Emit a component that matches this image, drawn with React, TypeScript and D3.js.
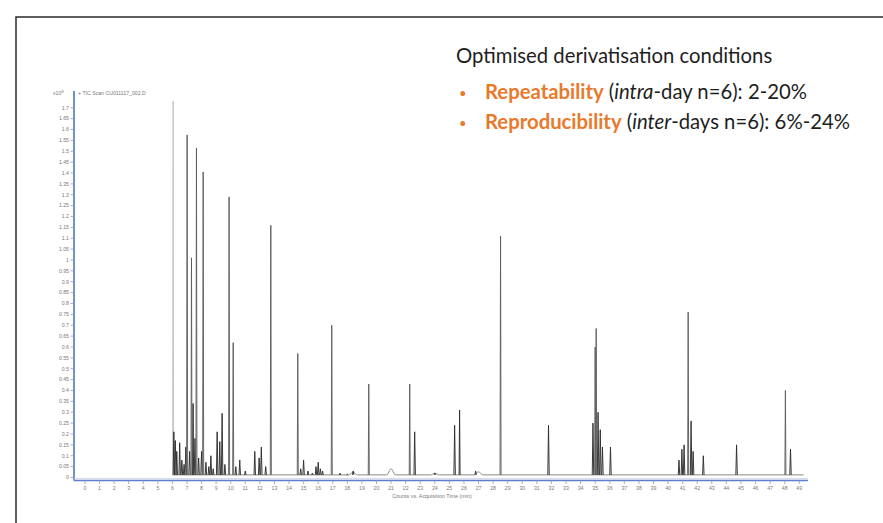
import React, { useEffect, useRef } from 'react'
import * as d3 from 'd3'

// retention time (min) and response (x10^8) of each peak
const peakTimes = [
  6.05, 6.1, 6.2, 6.3, 6.5, 6.65, 6.8, 6.92, 7.01, 7.18, 7.31, 7.42, 7.55, 7.65, 7.8, 8.0, 8.11, 8.3, 8.5,
  8.64, 8.8, 9.07, 9.25, 9.41, 9.6, 9.89, 10.17, 10.35, 10.62, 11.0, 11.65, 11.95, 12.1, 12.4, 12.75,
  14.6, 14.8, 15.0, 15.3, 15.6, 15.85, 16.0, 16.15, 16.3, 16.93, 17.5, 18.0, 18.4, 19.47, 22.28, 22.62,
  24.0, 25.36, 25.7, 26.8, 28.51, 31.8, 34.85, 35.0, 35.07, 35.2, 35.35, 35.5, 36.05, 40.75, 40.95,
  41.1, 41.38, 41.58, 41.72, 42.42, 44.7, 48.05, 48.4
]
const peakHeights = [
  1.73, 0.21, 0.17, 0.12, 0.16, 0.08, 0.06, 0.14, 1.575, 0.12, 1.01, 0.34, 0.18, 1.515, 0.09, 0.12, 1.405, 0.07, 0.05,
  0.1, 0.04, 0.21, 0.165, 0.295, 0.06, 1.29, 0.62, 0.05, 0.08, 0.03, 0.12, 0.09, 0.14, 0.05, 1.16,
  0.57, 0.04, 0.08, 0.03, 0.02, 0.05, 0.07, 0.04, 0.03, 0.7, 0.02, 0.015, 0.03, 0.43, 0.43, 0.21,
  0.02, 0.24, 0.31, 0.03, 1.11, 0.24, 0.25, 0.6, 0.685, 0.3, 0.22, 0.14, 0.14, 0.08, 0.13,
  0.15, 0.76, 0.26, 0.12, 0.1, 0.15, 0.4, 0.13
]
// broad low humps on the baseline
const humpTimes = [18.4, 21.0, 24.0, 27.0]
const humpHeights = [0.012, 0.028, 0.008, 0.014]

const xTicks = d3.range(0, 50)
const yTicks = d3.range(0, 1.7001, 0.05)

const W = 883
const H = 523

const Chromatogram = () => {
  const ref = useRef<SVGSVGElement>(null)

  useEffect(() => {
    const svg = d3.select(ref.current)
    svg.selectAll('*').remove()

    const x = d3.scaleLinear().domain([-0.75, 49.6]).range([74, 808])
    const y = d3.scaleLinear().domain([0, 1.77]).range([477.5, 92.5])

    svg.append('rect').attr('width', W).attr('height', H).attr('fill', '#fff')
    // slide frame
    svg.append('rect')
      .attr('x', 16).attr('y', 17).attr('width', 900).attr('height', 520)
      .attr('fill', 'none').attr('stroke', '#2b2b2b').attr('stroke-width', 1.5)

    const line = d3.line<[number, number]>().x(d => x(d[0])).y(d => y(d[1]))
    const smooth = d3.line<[number, number]>().x(d => x(d[0])).y(d => y(d[1])).curve(d3.curveMonotoneX)

    // baseline with humps
    const base = 0.012
    const basePts: [number, number][] = [[6.0, base]]
    humpTimes.forEach((t, i) => {
      basePts.push([t - 0.3, base], [t, base + humpHeights[i]], [t + 0.3, base])
    })
    basePts.push([49.3, base])
    svg.append('path')
      .attr('d', smooth(basePts))
      .attr('fill', 'none').attr('stroke', '#8a8a8a').attr('stroke-width', 1)

    // peaks
    peakTimes.forEach((t, i) => {
      const h = peakHeights[i]
      const w = h > 0.3 ? 0.035 : 0.05
      svg.append('path')
        .attr('d', line([[t - w, base], [t, h], [t + w, base]]))
        .attr('fill', 'none')
        .attr('stroke', i === 0 ? '#c9bfbf' : (h > 0.35 ? '#5e5e5e' : '#2e2e2e'))
        .attr('stroke-width', 0.95)
    })

    // y axis
    const yAxis = svg.append('g')
    yAxis.append('line')
      .attr('x1', 74).attr('x2', 74).attr('y1', 91).attr('y2', 480.5)
      .attr('stroke', '#4f74c4').attr('stroke-width', 1.6)
    yAxis.selectAll('.yt').data(yTicks).enter().append('line')
      .attr('x1', 70.5).attr('x2', 74).attr('y1', d => y(d)).attr('y2', d => y(d))
      .attr('stroke', '#8a9bc4').attr('stroke-width', 0.8)
    yAxis.selectAll('.yl').data(yTicks).enter().append('text')
      .attr('x', 69).attr('y', d => y(d)).attr('dy', '0.35em')
      .attr('text-anchor', 'end').attr('font-size', 5.2).attr('fill', '#7a7a7a')
      .attr('font-family', 'Liberation Sans, Arial, sans-serif')
      .text(d => d3.format('.2~f')(d))

    const hdr = svg.append('text')
      .attr('x', 53).attr('y', 95).attr('font-size', 5.2).attr('fill', '#7a7a7a')
      .attr('font-family', 'Liberation Sans, Arial, sans-serif')
    hdr.append('tspan').text('x10')
    hdr.append('tspan').attr('dy', -2).attr('font-size', 4).text('8')
    hdr.append('tspan').attr('dy', 2).attr('x', 78).text('+ TIC Scan CU011117_002.D')

    // x axis
    const xAxis = svg.append('g')
    xAxis.append('line')
      .attr('x1', 74).attr('x2', 808).attr('y1', 480.5).attr('y2', 480.5)
      .attr('stroke', '#5b7fc9').attr('stroke-width', 1.6)
    xAxis.append('line')
      .attr('x1', 74).attr('x2', 808).attr('y1', 478.8).attr('y2', 478.8)
      .attr('stroke', '#c3cde3').attr('stroke-width', 1)
    xAxis.selectAll('.xt').data(xTicks).enter().append('line')
      .attr('x1', d => x(d)).attr('x2', d => x(d)).attr('y1', 480.5).attr('y2', 484)
      .attr('stroke', '#8a9bc4').attr('stroke-width', 0.8)
    xAxis.selectAll('.xl').data(xTicks).enter().append('text')
      .attr('x', d => x(d)).attr('y', 488).attr('dy', '0.35em')
      .attr('text-anchor', 'middle').attr('font-size', 5.2).attr('fill', '#7a7a7a')
      .attr('font-family', 'Liberation Sans, Arial, sans-serif')
      .text(d => d)
    svg.append('text')
      .attr('x', 432).attr('y', 496).attr('dy', '0.35em')
      .attr('text-anchor', 'middle').attr('font-size', 5.4).attr('fill', '#7a7a7a')
      .attr('font-family', 'Liberation Sans, Arial, sans-serif')
      .text('Counts vs. Acquisition Time (min)')

    // annotation text
    const font = 'Lato, Open Sans, sans-serif'
    const orange = '#e9792b'
    const fs = 20.3
    svg.append('text')
      .attr('x', 456).attr('y', 63).attr('font-size', fs).attr('fill', '#1e1e1e')
      .attr('font-family', font)
      .text('Optimised derivatisation conditions')

    const bullets = [
      { y: 99, key: 'Repeatability', it: 'intra', rest: '-day n=6): 2-20%' },
      { y: 129, key: 'Reproducibility', it: 'inter', rest: '-days n=6): 6%-24%' }
    ]
    bullets.forEach(b => {
      svg.append('text')
        .attr('x', 459).attr('y', b.y - 1).attr('font-size', 13).attr('fill', orange)
        .attr('font-family', font).text('•')
      const t = svg.append('text')
        .attr('x', 485).attr('y', b.y).attr('font-size', fs).attr('fill', '#1e1e1e')
        .attr('font-family', font)
      t.append('tspan').attr('fill', orange).attr('font-weight', 'bold').text(b.key)
      t.append('tspan').text(' (')
      t.append('tspan').attr('font-style', 'italic').text(b.it)
      t.append('tspan').text(b.rest)
    })
  }, [])

  return <svg ref={ref} width={W} height={H} style={{ position: 'absolute', left: 0, top: 0 }} />
}

export default function App() {
  return <Chromatogram />
}
